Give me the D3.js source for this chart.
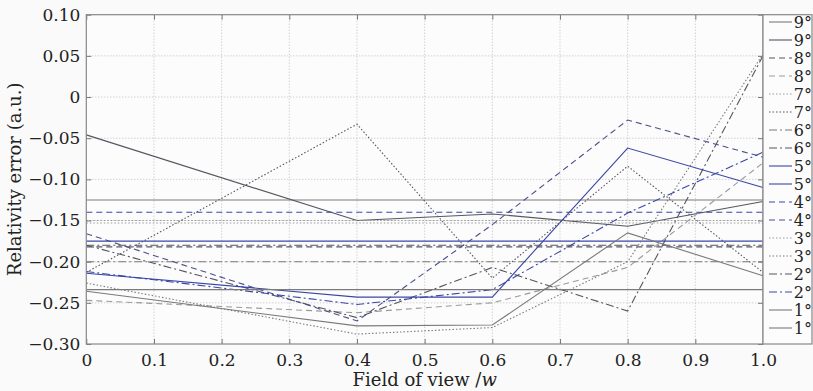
<!DOCTYPE html>
<html><head><meta charset="utf-8">
<script src="https://cdn.jsdelivr.net/npm/d3@7"></script>
<style>
html,body{margin:0;padding:0;background:#fafafa;}
</style></head>
<body><svg id="c" width="813" height="391"></svg>
<script>
const xPoints = [0, 0.4, 0.6, 0.8, 1.0];
const xTicks = [0,0.1,0.2,0.3,0.4,0.5,0.6,0.7,0.8,0.9,1.0];
const xTickLabels = ["0","0.1","0.2","0.3","0.4","0.5","0.6","0.7","0.8","0.9","1.0"];
const yTicks = [0.10,0.05,0,-0.05,-0.10,-0.15,-0.20,-0.25,-0.30];
const yTickLabels = ["0.10","0.05","0","\u22120.05","\u22120.10","\u22120.15","\u22120.20","\u22120.25","\u22120.30"];
const legendLabels = ["9°","9°","8°","8°","7°","7°","6°","6°","5°","5°","4°","4°","3°","3°","2°","2°","1°","1°"];

// constant (reference) levels per angle
const level9 = -0.125, level8 = -0.182, level7 = -0.150, level6 = -0.200, level5 = -0.175;
const level4 = -0.140, level3 = -0.153, level2 = -0.180, level1 = -0.234;
// measured curves per angle (at xPoints)
const curve9 = [-0.046, -0.150, -0.142, -0.157, -0.127];
const curve8 = [-0.247, -0.262, -0.250, -0.207, -0.080];
const curve7 = [-0.213, -0.033, -0.220, -0.084, -0.213];
const curve6 = [-0.180, -0.268, -0.207, -0.260, 0.050];
const curve5 = [-0.214, -0.243, -0.243, -0.062, -0.110];
const curve4 = [-0.166, -0.272, -0.155, -0.028, -0.073];
const curve3 = [-0.226, -0.288, -0.280, -0.200, 0.052];
const curve2 = [-0.212, -0.252, -0.234, -0.141, -0.067];
const curve1 = [-0.236, -0.278, -0.277, -0.165, -0.217];

const FONT = '"DejaVu Serif","Liberation Serif","Noto Serif",serif';
const gray="#7a7a7a", dgray="#555560", lgray="#9a9a9a", blue="#3a46a6", dblue="#4a4f8a";
const SOLID=null, DASH="6,4", DOT="1.5,2", DASHDOT="8,3,2,3";
// series in legend order
const series = [
  {level:level9, style:{c:gray, d:SOLID}},
  {vals:curve9, style:{c:dgray, d:SOLID}},
  {level:level8, style:{c:dgray, d:DASH}},
  {vals:curve8, style:{c:lgray, d:DASH}},
  {level:level7, style:{c:lgray, d:DOT}},
  {vals:curve7, style:{c:dgray, d:DOT}},
  {level:level6, style:{c:gray, d:DASHDOT}},
  {vals:curve6, style:{c:dgray, d:DASHDOT}},
  {level:level5, style:{c:blue, d:SOLID}},
  {vals:curve5, style:{c:blue, d:SOLID}},
  {level:level4, style:{c:blue, d:DASH}},
  {vals:curve4, style:{c:dblue, d:DASH}},
  {level:level3, style:{c:lgray, d:DOT}},
  {vals:curve3, style:{c:gray, d:DOT}},
  {level:level2, style:{c:dgray, d:DASHDOT}},
  {vals:curve2, style:{c:blue, d:DASHDOT}},
  {level:level1, style:{c:gray, d:SOLID}},
  {vals:curve1, style:{c:gray, d:SOLID}}
];

const svg = d3.select("#c");
const L=86.3, R=763, T=14.7, B=344;
const x = d3.scaleLinear().domain([0,1]).range([L,R]);
const y = d3.scaleLinear().domain([-0.30,0.10]).range([B,T]);

svg.append("rect").attr("width",813).attr("height",391).attr("fill","#fafafa");
svg.append("rect").attr("x",L).attr("y",T).attr("width",R-L).attr("height",B-T).attr("fill","#fcfcfc");

// grid
const g = svg.append("g");
g.selectAll(".vx").data(xTicks.slice(1,-1)).enter().append("line")
  .attr("x1",d=>x(d)).attr("x2",d=>x(d)).attr("y1",T).attr("y2",B)
  .attr("stroke","#b0b0b0").attr("stroke-width",0.8).attr("stroke-dasharray","1,2");
g.selectAll(".hy").data(yTicks.slice(1,-1)).enter().append("line")
  .attr("y1",d=>y(d)).attr("y2",d=>y(d)).attr("x1",L).attr("x2",R)
  .attr("stroke","#b0b0b0").attr("stroke-width",0.8).attr("stroke-dasharray","1,2");

// series
const line = d3.line().x(d=>x(d[0])).y(d=>y(d[1]));
series.forEach(s=>{
  const pts = s.level!==undefined ? [[0,s.level],[1,s.level]] : xPoints.map((xv,i)=>[xv,s.vals[i]]);
  svg.append("path").attr("d",line(pts)).attr("fill","none")
    .attr("stroke",s.style.c).attr("stroke-width",1.1)
    .attr("stroke-dasharray",s.style.d);
});

// axes
const xAxis = d3.axisBottom(x).tickValues(xTicks).tickFormat((d,i)=>xTickLabels[i]).tickSizeInner(-5).tickSizeOuter(0).tickPadding(10);
const yAxis = d3.axisLeft(y).tickValues(yTicks).tickFormat((d,i)=>yTickLabels[i]).tickSizeInner(-5).tickSizeOuter(0).tickPadding(6);
const xa = svg.append("g").attr("transform",`translate(0,${B})`).call(xAxis);
const ya = svg.append("g").attr("transform",`translate(${L},0)`).call(yAxis);
const ya2 = svg.append("g").attr("transform",`translate(${R},0)`).call(d3.axisRight(y).tickValues(yTicks).tickSizeInner(-5).tickSizeOuter(0).tickFormat(""));
const xa2 = svg.append("g").attr("transform",`translate(0,${T})`).call(d3.axisTop(x).tickValues(xTicks).tickSizeInner(-5).tickSizeOuter(0).tickFormat(""));
[xa,ya,ya2,xa2].forEach(a=>{a.select(".domain").remove(); a.selectAll("line").attr("stroke","#777"); a.attr("font-family",FONT);});
[xa,ya].forEach(a=>a.selectAll("text").attr("font-size",17).attr("font-family",FONT).attr("fill","#222"));
svg.append("rect").attr("x",L).attr("y",T).attr("width",R-L).attr("height",B-T)
  .attr("fill","none").attr("stroke","#888").attr("stroke-width",1.2);

// axis titles
svg.append("text").attr("x",(L+R)/2).attr("y",386).attr("text-anchor","middle").attr("font-family",FONT)
  .attr("font-size",18).attr("fill","#222").html('Field of view /<tspan font-style="italic">w</tspan>');
svg.append("text").attr("transform",`translate(21,${(T+B)/2}) rotate(-90)`).attr("text-anchor","middle").attr("font-family",FONT)
  .attr("font-size",18).attr("fill","#222").text("Relativity error (a.u.)");

// legend
const lg = svg.append("g");
lg.append("rect").attr("x",R).attr("y",T).attr("width",49).attr("height",B-T)
  .attr("fill","#fcfcfc").attr("stroke","#888").attr("stroke-width",1.2);
const ly = d3.scaleLinear().domain([0,17]).range([22,328]);
series.forEach((s,i)=>{
  lg.append("line").attr("x1",R+6).attr("x2",R+29).attr("y1",ly(i)).attr("y2",ly(i))
    .attr("stroke",s.style.c).attr("stroke-width",1.1).attr("stroke-dasharray",s.style.d);
  lg.append("text").attr("x",812).attr("y",ly(i)+6).attr("text-anchor","end").attr("font-family",FONT)
    .attr("font-size",16).attr("fill","#222").text(legendLabels[i]);
});
</script></body></html>
